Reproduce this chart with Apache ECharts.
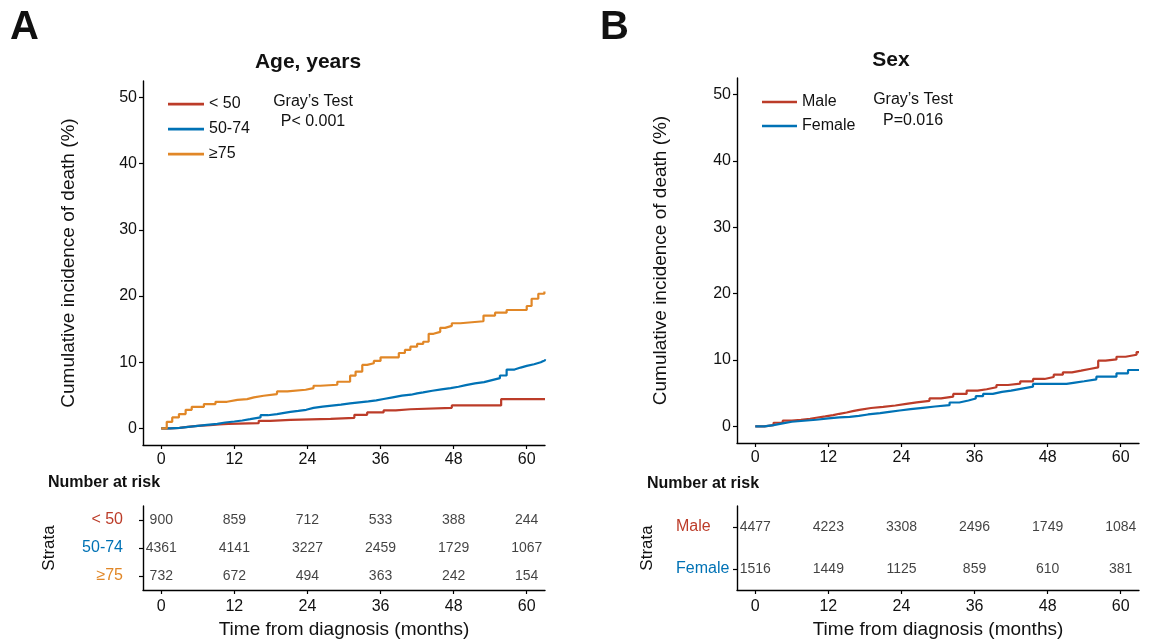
<!DOCTYPE html>
<html><head><meta charset="utf-8">
<script src="https://cdn.jsdelivr.net/npm/echarts@6/dist/echarts.min.js"></script>
<style>html,body{margin:0;padding:0;background:#fff}#c{width:1152px;height:641px}</style>
</head><body><div id="c"></div>
<script>
// ---------- data ----------
const ageGroups = ['< 50', '50-74', '≥75'];
const sexGroups = ['Male', 'Female'];
const timeTicks = [0, 12, 24, 36, 48, 60];
const yTicks = [0, 10, 20, 30, 40, 50];

const riskAgeLt50 = [900, 859, 712, 533, 388, 244];
const riskAge5074 = [4361, 4141, 3227, 2459, 1729, 1067];
const riskAgeGe75 = [732, 672, 494, 363, 242, 154];
const riskMale = [4477, 4223, 3308, 2496, 1749, 1084];
const riskFemale = [1516, 1449, 1125, 859, 610, 381];

// cumulative incidence (%) step points [month, value]
const cifAgeLt50 = [[0,0],[1.5,0.1],[3,0.25],[4.3,0.4],[6,0.5],[8,0.6],[9.5,0.7],[11,0.8],[16,1.15],[17.9,1.3],[21.2,1.45],[27.8,1.6],[31.7,2.06],[33.8,2.42],[36.5,2.73],[38.5,2.9],[40.9,3.12],[47.7,3.48],[55.8,4.44],[63,4.44]];
const cifAge5074 = [[0,0],[1.5,0.1],[3,0.25],[4.5,0.4],[6,0.55],[7.5,0.7],[9.2,0.9],[10.5,1.05],[12,1.2],[13.3,1.4],[14.6,1.67],[16.3,2.0],[17.5,2.17],[19,2.35],[20.2,2.5],[21.2,2.65],[22.5,2.82],[23.8,3.1],[25,3.3],[26.5,3.45],[28,3.6],[29.5,3.8],[31,3.95],[32.5,4.1],[34,4.25],[35.3,4.45],[36.5,4.7],[38,4.95],[39.5,5.1],[41,5.3],[42,5.45],[43,5.7],[44.5,5.9],[46,6.1],[47.5,6.3],[48.8,6.55],[50,6.8],[51.5,7.0],[53,7.3],[54.3,7.6],[55.6,8.0],[56.7,8.9],[58,9.2],[59,9.45],[60,9.7],[61.2,10.0],[62.3,10.3],[63,10.45]];
const cifAgeGe75 = [[0,0],[0.9,1.0],[1.8,1.67],[2.9,2.17],[4.0,2.82],[5.0,3.27],[7.0,3.68],[8.9,4.03],[10.8,4.33],[12.5,4.43],[14.1,4.7],[15.2,4.94],[16.8,5.2],[19.0,5.6],[20.7,5.85],[23.7,6.1],[25.0,6.45],[26.1,6.6],[28.9,7.06],[31.0,7.97],[31.9,8.6],[33.0,9.6],[33.8,9.85],[34.9,10.2],[36.0,10.75],[39.0,11.4],[40.0,11.86],[40.9,12.36],[42.0,12.77],[43.0,13.1],[43.9,14.3],[44.7,14.6],[45.8,15.2],[46.6,15.5],[47.7,15.9],[49.1,16.2],[52.9,17.06],[54.8,17.5],[56.7,17.9],[60.0,18.5],[60.8,19.6],[61.9,20.35],[62.9,20.7],[63,20.7]];
const cifMale = [[0,0],[1.5,0.2],[3,0.55],[4.5,0.86],[6,1.0],[7.5,1.15],[9,1.3],[10,1.5],[11.5,1.7],[12.8,1.9],[13.8,2.1],[15,2.3],[16,2.5],[17.1,2.77],[19,2.95],[21,3.15],[23,3.4],[24.8,3.62],[26.5,3.85],[28.6,4.22],[30.5,4.5],[32.5,4.9],[34.7,5.38],[36.5,5.6],[38,5.9],[39.6,6.24],[41.5,6.45],[43.5,6.8],[45.6,7.15],[47.5,7.45],[49,7.8],[50.5,8.15],[52,8.4],[53.5,8.65],[54.9,8.9],[56.3,9.9],[57.5,10.1],[59.3,10.5],[60.8,10.8],[62.6,11.2],[63,11.2]];
const cifFemale = [[0,0],[1.5,0.2],[3,0.45],[4.5,0.7],[6,0.85],[8,1.0],[10,1.2],[12,1.35],[13.8,1.45],[15.5,1.6],[17,1.8],[18.5,2.0],[20.5,2.2],[22,2.4],[23.7,2.6],[25.5,2.8],[27.5,3.0],[29.5,3.2],[31.9,3.6],[33.5,3.9],[35,4.2],[36.2,4.55],[37.4,4.9],[39,5.2],[40.5,5.4],[42,5.7],[43.8,6.0],[45.6,6.4],[51.1,6.6],[52.5,6.8],[54,7.1],[56,7.5],[59.3,8.0],[61.2,8.5],[63,8.5]];

// ---------- style ----------
const RED = '#BC3C29', BLUE = '#0072B5', ORANGE = '#E18727';
const FONT = '"Liberation Sans", Arial, Helvetica, sans-serif';
const axisLine = { show: true, onZero: false, lineStyle: { color: '#000', width: 1.4 } };
const axisTick = (vals) => ({ show: true, length: 4, customValues: vals, lineStyle: { color: '#000', width: 1.2 } });
const tickLabel = (vals, margin) => ({ customValues: vals, color: '#111', fontSize: 16, fontFamily: FONT, margin: margin });
const LEGEND_ICON = 'path://M0,5.8h36v2.6h-36z M0,0h0.01v0.01h-0.01z M35.99,13.99h0.01v0.01h-0.01z';

function plotX(idx) {
  return { type: 'value', gridIndex: idx, min: -3, max: 63, axisLine, axisTick: axisTick(timeTicks),
    axisLabel: tickLabel(timeTicks, 7), splitLine: { show: false } };
}
function plotY(idx, gap) {
  return { type: 'value', gridIndex: idx, min: -2.5, max: 52.5, axisLine, axisTick: axisTick(yTicks),
    axisLabel: tickLabel(yTicks, 6), splitLine: { show: false },
    name: 'Cumulative incidence of death (%)', nameLocation: 'middle', nameGap: gap, nameRotate: 90,
    nameTextStyle: { fontSize: 19, fontFamily: FONT, color: '#111' } };
}
function tableX(idx) {
  return { type: 'value', gridIndex: idx, min: -3, max: 63, axisLine, axisTick: axisTick(timeTicks),
    axisLabel: tickLabel(timeTicks, 9), splitLine: { show: false },
    name: 'Time from diagnosis (months)', nameLocation: 'middle', nameGap: 30,
    nameTextStyle: { fontSize: 19, fontFamily: FONT, color: '#111', verticalAlign: 'top' } };
}
function tableY(idx, cats, colors, align, margin, gap) {
  return { type: 'category', gridIndex: idx, data: cats, inverse: true, axisLine,
    axisTick: { show: true, alignWithLabel: true, length: 4, lineStyle: { color: '#000', width: 1.2 } },
    axisLabel: { fontSize: 16, fontFamily: FONT, margin: margin, align: align,
      color: (v, i) => colors[cats.indexOf(v)] },
    name: 'Strata', nameLocation: 'middle', nameRotate: 90, nameGap: gap,
    nameTextStyle: { fontSize: 17, fontFamily: FONT, color: '#111' } };
}
function curve(name, data, color, xi) {
  return { name, type: 'line', step: 'end', data, xAxisIndex: xi, yAxisIndex: xi, symbol: 'none',
    lineStyle: { color, width: 2.2 }, itemStyle: { color }, animation: false, z: 3 };
}
function riskSeries(id, rows, xi) {
  const data = [];
  rows.forEach((r, ri) => r.forEach((v, ti) => data.push([timeTicks[ti], ri, v])));
  return { name: id, type: 'scatter', xAxisIndex: xi, yAxisIndex: xi, data, symbolSize: 1,
    itemStyle: { color: 'rgba(0,0,0,0)' }, animation: false, silent: true,
    label: { show: true, position: 'inside', formatter: p => String(p.value[2]),
      fontSize: 14, fontFamily: FONT, color: '#111' } };
}
function txt(text, x, y, size, weight, align) {
  return { type: 'text', style: { text, x, y, fontSize: size, fontWeight: weight || 'normal',
    fontFamily: FONT, fill: '#111', textAlign: align || 'left', textVerticalAlign: 'middle' } };
}

const option = {
  backgroundColor: '#fff',
  animation: false,
  grid: [
    { left: 143, top: 81, width: 402, height: 364 },
    { left: 737, top: 78, width: 402, height: 365 },
    { left: 143, top: 506, width: 402, height: 84 },
    { left: 737, top: 506, width: 402, height: 84 }
  ],
  xAxis: [plotX(0), plotX(1), tableX(2), tableX(3)],
  yAxis: [plotY(0, 65), plotY(1, 67),
    tableY(2, ageGroups, [RED, BLUE, ORANGE], 'right', 20, 85),
    tableY(3, sexGroups, [RED, BLUE], 'left', 61, 81)],
  legend: [
    { data: ageGroups, orient: 'vertical', left: 163, top: 91, itemWidth: 36, itemHeight: 14, itemGap: 9,
      icon: LEGEND_ICON, textStyle: { fontSize: 16, fontFamily: FONT, color: '#111' }, selectedMode: false },
    { data: sexGroups, orient: 'vertical', left: 757, top: 89, itemWidth: 35, itemHeight: 14, itemGap: 8,
      icon: LEGEND_ICON, textStyle: { fontSize: 16, fontFamily: FONT, color: '#111' }, selectedMode: false }
  ],
  series: [
    curve(ageGroups[0], cifAgeLt50, RED, 0),
    curve(ageGroups[1], cifAge5074, BLUE, 0),
    curve(ageGroups[2], cifAgeGe75, ORANGE, 0),
    curve(sexGroups[0], cifMale, RED, 1),
    curve(sexGroups[1], cifFemale, BLUE, 1),
    riskSeries('riskAge', [riskAgeLt50, riskAge5074, riskAgeGe75], 2),
    riskSeries('riskSex', [riskMale, riskFemale], 3)
  ],
  graphic: [
    txt('A', 10, 28, 40, 'bold'),
    txt('B', 600, 28, 40, 'bold'),
    txt('Age, years', 308, 62, 21, 'bold', 'center'),
    txt('Sex', 891, 60, 21, 'bold', 'center'),
    txt('Gray\u2019s Test', 313, 102, 16, 'normal', 'center'),
    txt('P< 0.001', 313, 122, 16, 'normal', 'center'),
    txt('Gray\u2019s Test', 913, 100, 16, 'normal', 'center'),
    txt('P=0.016', 913, 121, 16, 'normal', 'center'),
    txt('Number at risk', 48, 483, 16, 'bold'),
    txt('Number at risk', 647, 484, 16, 'bold')
  ]
};
const chart = echarts.init(document.getElementById('c'), null, { renderer: 'canvas' });
chart.setOption(option);
</script></body></html>
